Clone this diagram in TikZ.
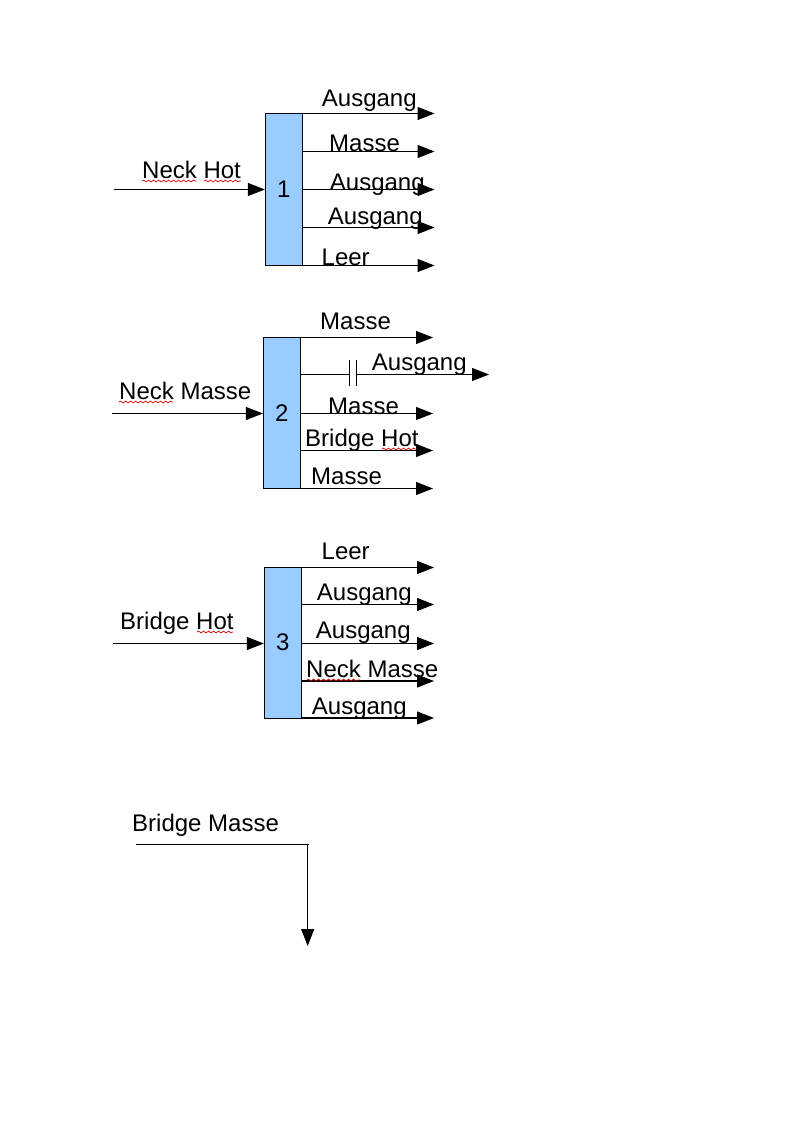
\documentclass[tikz,border=0pt]{standalone}
\usepackage{fontspec}
\setmainfont{Liberation Sans}
\usetikzlibrary{arrows.meta,decorations.pathmorphing}
\tikzset{
  x=1pt,y=-1pt,
  wire/.style={line width=1.1pt,black},
  arrowwire/.style={wire,-{Triangle[length=17pt,width=13pt]}},
  block/.style={draw=black,line width=1.1pt,fill=blockblue,minimum width=37pt,inner sep=0pt,font=\fontsize{24}{28}\selectfont},
  lbl/.style={anchor=base west,inner sep=0pt,font=\fontsize{24}{28}\selectfont,text=black},
  spell/.style={draw=red!85!black,line width=0.7pt,decorate,decoration={snake,amplitude=0.9pt,segment length=5pt}},
  plate/.style={minimum width=7pt,minimum height=26pt,inner sep=0pt}
}
\definecolor{blockblue}{HTML}{99CCFF}
\begin{document}
\begin{tikzpicture}
\useasboundingbox (0,0) rectangle (794,1123);
% blocks
\node[block,minimum height=152pt] (b1) at (283.9,189.2) {1};
\node[block,minimum height=151pt] (b2) at (281.9,412.8) {2};
\node[block,minimum height=151pt] (b3) at (282.9,642.7) {3};
% free ends
\coordinate (i1) at (113.5,189.5);
\coordinate (i2) at (112,413.5);
\coordinate (i3) at (113,643.5);
\foreach \n/\y in {a/113.5,b/151.5,c/189.5,d/227.5,e/265.5}{\coordinate (o1\n) at (434.5,\y);}
\foreach \n/\y in {a/337.5,c/413.5,d/450.5,e/488.5}{\coordinate (o2\n) at (433,\y);}
\coordinate (o2b) at (489,374.5);
\foreach \n/\y in {a/567.5,b/604.5,c/643.5,d/681,e/718}{\coordinate (o3\n) at (434,\y);}
% connectors
\foreach \b in {1,2,3}{\draw[arrowwire] (i\b) -- (i\b -| b\b.west);}
\foreach \n in {a,b,c,d,e}{\draw[arrowwire] (b1.east |- o1\n) -- (o1\n);}
\foreach \n in {a,c,d,e}{\draw[arrowwire] (b2.east |- o2\n) -- (o2\n);}
\foreach \n in {a,b,c,d,e}{\draw[arrowwire] (b3.east |- o3\n) -- (o3\n);}
% capacitor
\node[plate] (cap) at (352.8,373) {};
\draw[wire] (b2.east |- o2b) -- (cap.west |- o2b);
\draw[arrowwire] (cap.east |- o2b) -- (o2b);
\draw[wire] (cap.north west) -- (cap.south west);
\draw[wire] (cap.north east) -- (cap.south east);
% bottom line
\coordinate (bm) at (136,844.7);
\coordinate (bc) at (307.7,844.7);
\coordinate (bt) at (307.7,946);
\draw[wire] (bm) -- (309,844.7);
\draw[arrowwire] (bc) -- (bt);
% labels
\node[lbl] (t1) at (142,179) {Neck Hot};
\node[lbl] (t2) at (321.7,107) {Ausgang};
\node[lbl] (t3) at (329,152) {Masse};
\node[lbl] (t4) at (329.7,191) {Ausgang};
\node[lbl] (t5) at (327.7,225) {Ausgang};
\node[lbl] (t6) at (321.5,265) {Leer};
\node[lbl] (t7) at (119,399) {Neck Masse};
\node[lbl] (t8) at (320,329) {Masse};
\node[lbl] (t9) at (371.7,370) {Ausgang};
\node[lbl] (t10) at (328,414) {Masse};
\node[lbl] (t11) at (305,446) {Bridge Hot};
\node[lbl] (t12) at (311,484) {Masse};
\node[lbl] (t13) at (120,629) {Bridge Hot};
\node[lbl] (t14) at (321.5,559) {Leer};
\node[lbl] (t15) at (316.7,600) {Ausgang};
\node[lbl] (t16) at (315.7,638) {Ausgang};
\node[lbl] (t17) at (306,677) {Neck Masse};
\node[lbl] (t18) at (311.7,714) {Ausgang};
\node[lbl] (t19) at (132,831) {Bridge Masse};
% spell-check underlines
\draw[spell] (142,181) -- (196,181);
\draw[spell] (204,181) -- (241,181);
\draw[spell] (119,402) -- (173,402);
\draw[spell] (382,449) -- (417,449);
\draw[spell] (197,632) -- (233,632);
\draw[spell] (307,680) -- (360,680);
\end{tikzpicture}
\end{document}
